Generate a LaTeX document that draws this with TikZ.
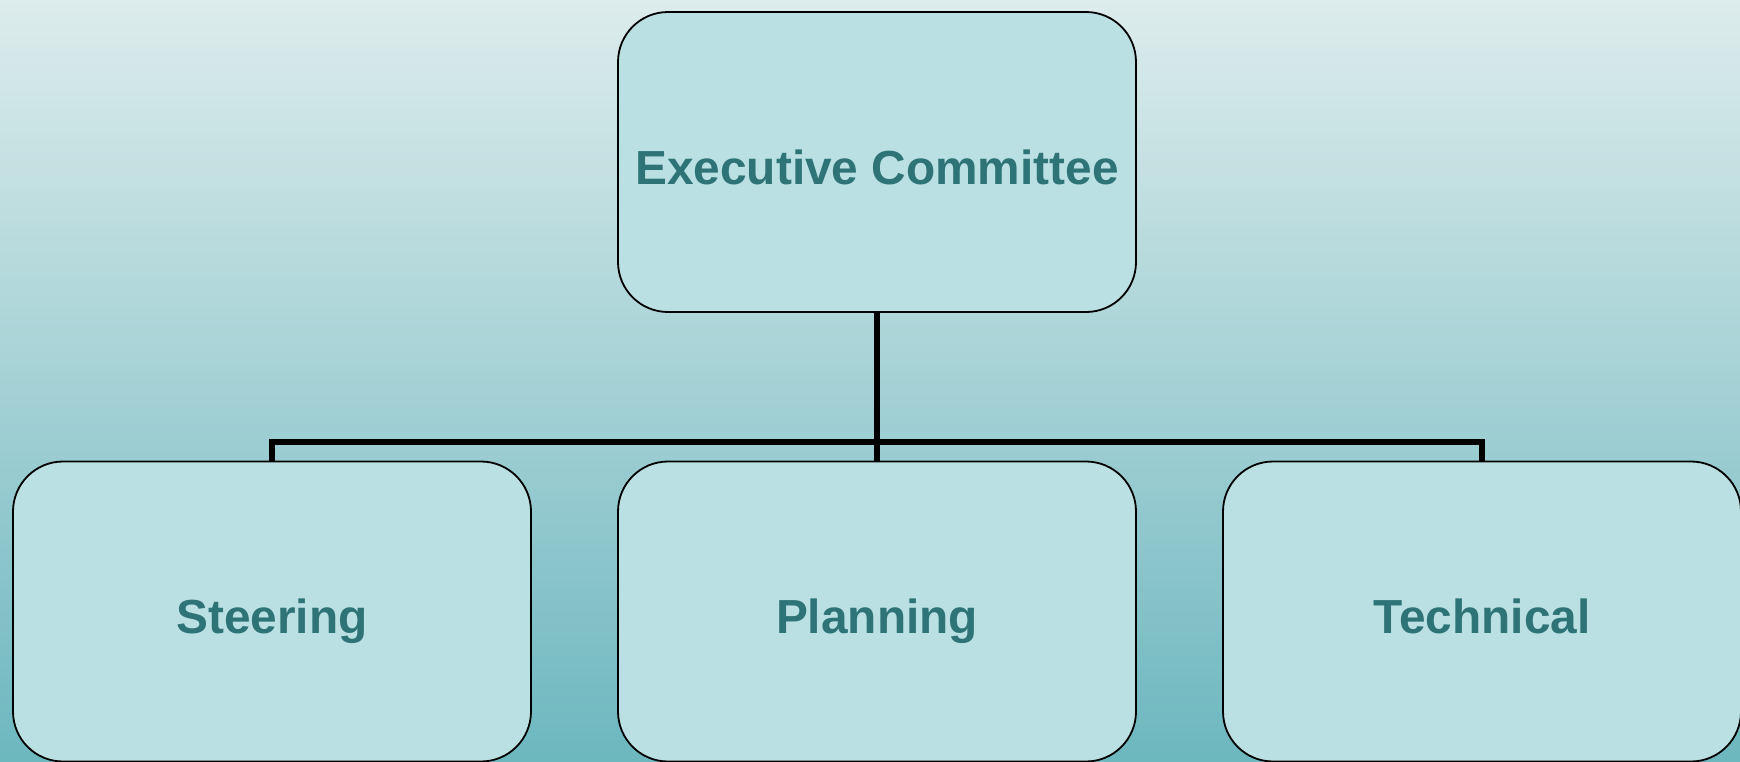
\documentclass[tikz,border=0pt]{standalone}
\usepackage{fontspec}
\setmainfont{Liberation Sans}
\usepackage{tikz}
\definecolor{bgtop}{HTML}{DDECEC}
\definecolor{bgbot}{HTML}{6DB7BF}
\definecolor{boxfill}{HTML}{BAE0E3}
\definecolor{boxtext}{HTML}{2E7376}
\tikzset{unit/.style={draw,fill=boxfill,rounded corners=25pt,line width=0.9pt,
		minimum width=259pt,minimum height=150pt,text height=22pt,text depth=0pt,
		text=boxtext,font=\fontsize{23.9pt}{28pt}\selectfont\bfseries},
	edge from parent/.style=
	{draw,line width=2.8pt,edge from parent path={(\tikzparentnode.south) -- ++(0,-64.5pt) -| (\tikzchildnode.north)}},
	level distance=224.75pt}

\begin{document}
\begin{tikzpicture}[x=0.5pt,y=-0.5pt,level/.style={sibling distance=302.5pt}]
\useasboundingbox (0,0) rectangle (1740,761);
\shade[top color=bgtop,bottom color=bgbot] (0,0) rectangle (1740,761);
\node [unit] (exec) at (877,162) {Executive Committee}
  child {node [unit] (steer) {Steering}}
  child {node [unit] (plan) {Planning}}
  child {node [unit] (tech) {Technical}};
\end{tikzpicture}
\end{document}
